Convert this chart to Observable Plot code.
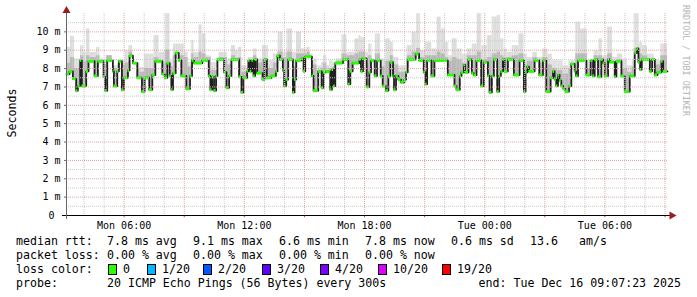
<!DOCTYPE html>
<html><head><meta charset="utf-8">
<script src="https://cdn.jsdelivr.net/npm/d3@7"></script>
<script src="https://cdn.jsdelivr.net/npm/@observablehq/plot@0.6"></script>
<style>
html,body{margin:0;padding:0;background:#fff;}
#wrap{position:relative;width:697px;height:297px;overflow:hidden;font-family:"DejaVu Sans Mono",monospace;}
#chart{position:absolute;left:0;top:0;}
.row{position:absolute;left:0;height:14px;width:697px;}
.t{position:absolute;top:0;font-size:11.6px;line-height:14px;white-space:pre;color:#000;}
.sq{position:absolute;top:2px;width:7px;height:9px;border:1px solid #000;}
</style></head>
<body><div id="wrap"><div id="chart"></div><div id="legend"></div></div>
<script>
// ---------- data (minutes after start, ms) ----------
const startTime = new Date(2025, 11, 15, 3, 7, 23);
const spanMinutes = 1800;
const medianMinutes = [0,9,19,29,34,41,46,59,66,84,94,111,116,122,139,142,152,157,166,172,184,189,199,212,226,234,248,257,266,287,
294,302,309,314,319,327,336,344,359,370,376,382,407,426,431,436,442,448,452,472,479,487,494,517,524,530,541,545,550,555,560,565,571,587,593,
600,614,627,632,639,648,652,658,664,678,683,688,704,710,715,735,740,754,764,770,777,790,795,800,805,828,844,850,857,877,882,888,
899,907,912,923,930,941,947,957,964,970,978,981,987,994,1002,1012,1017,1022,1046,1056,1070,1075,1080,1093,1102,1142,1162,1168,1178,1183,1190,
1194,1204,1214,1220,1228,1242,1250,1262,1267,1274,1280,1290,1296,1301,1307,1312,1322,1340,1357,1370,1375,1380,1385,1402,1416,1427,1437,1450,1457,1462,1467,1472,1477,1482,1488,
1494,1505,1512,1522,1526,1532,1557,1570,1577,1582,1592,1602,1607,1612,1622,1627,1642,1647,1662,1672,1687,1702,1708,1713,1718,1723,1747,1754,1762,1770,1782,1787];
const medianMs = [7.7,7.85,7.45,6.8,7.05,8.45,7.05,7.85,8.4,7.6,8.4,7.55,6.8,8.45,7.85,7.05,7.85,8.4,6.85,7.5,7.9,8.7,8.3,7.5,6.75,7.5,6.85,7.65,8.4,7.7,
7.5,8.3,7.6,6.85,7.75,8.85,8.45,7.6,6.9,7.6,8.45,8.3,8.45,7.6,6.85,7.55,6.8,7.6,8.5,7.8,6.95,7.6,8.5,7.55,6.7,7.5,7.85,8.45,7.85,8.45,7.6,8.5,7.75,7.4,8.5,
7.5,7.6,7.85,8.7,8.5,7.9,7.05,7.4,8.5,6.7,7.4,8.45,8.55,7.85,8.65,7.6,6.8,7.85,6.95,7.8,7.85,6.85,7.95,7.05,8.3,8.5,7.15,7.85,8.3,8.5,7.85,8.55,
7.0,7.8,8.45,7.6,8.45,7.6,7.05,6.8,7.6,8.35,7.6,6.85,7.6,7.4,7.25,7.4,7.8,8.5,8.8,8.45,7.8,7.15,8.45,7.6,8.45,7.65,7.05,6.85,7.6,7.8,8.2,
7.8,8.5,7.75,7.65,8.45,7.05,8.35,7.6,6.7,7.6,8.5,6.75,7.6,7.85,8.5,7.85,8.5,7.65,8.45,6.75,7.8,8.1,7.85,8.45,7.65,8.45,6.75,7.5,7.85,7.4,7.05,7.65,7.35,7.05,6.9,
6.75,7.05,8.25,7.85,7.6,8.45,7.65,8.45,7.6,8.5,7.55,8.5,8.3,7.6,8.5,8.35,7.55,8.4,7.6,6.75,7.6,8.85,9.1,8.35,7.95,8.5,7.85,8.5,7.65,7.8,8.4,7.85];
const smokeMinutes = [0,12,24,42,52,60,70,90,100,120,137,154,177,187,198,220,234,262,277,297,310,320,352,364,374,382,397,406,418,434,
457,482,494,506,514,525,544,560,570,587,605,620,634,649,660,677,689,704,720,730,739,750,764,770,780,788,798,808,825,840,864,876,
882,895,905,915,925,940,955,970,980,995,1020,1035,1049,1060,1075,1094,1110,1122,1135,1145,1155,1170,1185,1200,1215,1230,1244,1260,1275,1290,
1300,1310,1320,1335,1355,1370,1380,1397,1410,1425,1442,1455,1470,1487,1504,1525,1540,1560,1580,1595,1605,1620,1635,1650,1665,1680,1694,1700,1715,1725,1740,1760,1780];
const smokeTopMs = [9.16,9.76,8.52,9.25,8.88,10.16,8.88,9.16,8.52,8.7,8.15,8.43,8.97,9.25,8.33,8.06,8.79,9.8,8.88,10.99,8.43,9.34,8.88,8.33,9.52,8.88,10.38,9.89,8.7,8.33,
8.88,8.52,9.25,8.97,9.16,8.15,8.61,9.07,8.52,9.25,8.43,8.79,9.98,8.88,10.16,8.88,9.98,9.07,9.16,8.79,8.52,8.15,8.33,8.7,8.15,8.43,8.33,8.52,9.84,8.88,9.62,9.8,
9.7,8.88,9.34,8.43,9.89,8.52,9.62,9.43,8.61,8.15,9.25,9.98,10.99,8.97,9.43,9.07,10.8,10.16,9.43,8.7,9.62,9.07,8.79,9.07,9.34,10.99,9.25,9.8,10.81,10.9,
9.62,9.07,8.88,9.25,9.89,8.79,8.61,8.88,8.61,9.07,8.79,8.43,8.43,8.15,8.43,10.53,10.16,8.43,8.97,9.62,8.7,10.26,8.61,8.79,8.52,8.15,8.43,10.99,9.43,9.25,8.79,8.43,9.34];
const smokeMidMs = [8.3,8.6,8.0,8.7,8.4,8.7,8.6,8.7,8.2,8.9,8.0,8.2,8.3,8.9,8.0,7.8,8.0,8.6,8.3,9.0,8.1,8.7,8.6,8.1,8.8,8.6,8.9,8.8,8.6,7.9,
8.6,8.2,8.7,8.5,8.6,7.8,8.4,8.7,8.3,8.5,8.0,8.3,8.9,8.6,8.9,8.1,8.8,8.8,8.9,8.5,8.2,7.9,8.0,8.3,7.9,8.0,8.1,8.4,8.8,8.7,8.8,8.9,
8.9,8.3,8.7,8.0,8.8,8.1,8.4,8.7,8.2,7.8,8.7,8.9,9.1,8.6,8.7,8.7,8.9,8.8,8.6,8.4,8.6,8.5,8.3,8.7,8.7,8.9,8.5,8.6,8.8,8.9,
8.7,8.6,8.6,8.7,8.8,8.2,8.4,8.6,8.3,8.6,8.2,8.0,7.9,7.7,8.0,8.8,8.8,8.0,8.7,8.7,8.5,8.8,8.4,8.5,8.0,7.8,8.1,9.1,8.8,8.7,8.4,8.2,8.7];

const yTicks = [0,1,2,3,4,5,6,7,8,9,10];
const yTickLabels = ["0\u00a0","1 m","2 m","3 m","4 m","5 m","6 m","7 m","8 m","9 m","10 m"];
const xTickDates = [new Date(2025,11,15,6), new Date(2025,11,15,12), new Date(2025,11,15,18), new Date(2025,11,16,0), new Date(2025,11,16,6)];
const xTickLabels = ["Mon 06:00","Mon 12:00","Mon 18:00","Tue 00:00","Tue 06:00"];
const yTitle = "Seconds";
const sideText = "RRDTOOL / TOBI OETIKER";

const legendRows = [
  [["median rtt:",16],["7.8 ms avg",107],["9.1 ms max",193],["6.6 ms min",279],["7.8 ms now",365],["0.6 ms sd",451],["13.6",530],["am/s",579]],
  [["packet loss:",16],["0.00 % avg",107],["0.00 % max",193],["0.00 % min",279],["0.00 % now",365]],
  [["loss color:",16]],
  [["probe:",16],["20 ICMP Echo Pings (56 Bytes) every 300s",107]]
];
const lossLabels = ["0","1/20","2/20","3/20","4/20","10/20","19/20"];
const lossColors = ["#26ff00","#00b8ff","#0059ff","#5e00ff","#7e00ff","#dd00ff","#ff0000"];
const lossSquareX = [108,147,203,262,320,378,442];
const endText = "end: Tue Dec 16 09:07:23 2025";

// ---------- build ----------
const T = m => new Date(startTime.getTime() + m * 60000);
const stepAt = (mins, vals) => m => vals[Math.max(0, d3.bisectRight(mins, m) - 1)];
const medAt = stepAt(medianMinutes, medianMs);
const smkAt = stepAt(smokeMinutes, smokeTopMs);
const midAt = stepAt(smokeMinutes, smokeMidMs);
const cuts = Array.from(new Set([...medianMinutes, ...smokeMinutes, spanMinutes])).sort((a,b)=>a-b);
const smoke = [], smokeMid = [];
for (let i = 0; i < cuts.length - 1; i++) {
  const a = cuts[i], b = cuts[i+1], lo = medAt(a), hi = smkAt(a), mid = Math.min(midAt(a), hi);
  if (hi > lo) smoke.push({x1: T(a), x2: T(b), y1: lo, y2: hi});
  if (mid > lo) smokeMid.push({x1: T(a), x2: T(b), y1: lo, y2: mid});
}
const n = medianMinutes.length;
const segs = medianMinutes.map((m,i) => ({x1: T(m), x2: T(i < n-1 ? medianMinutes[i+1] : spanMinutes), y: medianMs[i]}));
const linePts = medianMinutes.map((m,i) => ({x: T(m), y: medianMs[i]})).concat([{x: T(spanMinutes), y: medianMs[n-1]}]);

const hours = d3.timeHour.range(T(0), T(spanMinutes));
const majorX = hours.filter(d => d.getHours() % 3 === 0);
const minorX = hours.filter(d => d.getHours() % 3 !== 0);
const majorY = d3.range(1, 11);
const minorY = d3.range(0.5, 11, 1);

const minor = "#c8c8c8", major = "#dfa2a2";
const chart = Plot.plot({
  width: 697, height: 232,
  marginLeft: 66, marginRight: 30, marginTop: 13, marginBottom: 17,
  style: {fontFamily: "'DejaVu Sans Mono', monospace", fontSize: "10px", background: "transparent", color: "#000", overflow: "visible"},
  x: {type: "time", domain: [T(0), T(spanMinutes)]},
  y: {domain: [0, 11]},
  marks: [
    Plot.rect(smoke, {x1: "x1", x2: "x2", y1: "y1", y2: "y2", fill: "#dddddd"}),
    Plot.rect(smokeMid, {x1: "x1", x2: "x2", y1: "y1", y2: "y2", fill: "#b9b9b9"}),
    Plot.line(linePts, {x: "x", y: "y", curve: "step-after", stroke: "#202020", strokeWidth: 1.8}),
    Plot.ruleY(segs, {y: "y", x1: "x1", x2: "x2", stroke: "#26ff00", strokeWidth: 3}),
    Plot.ruleY(minorY, {stroke: minor, strokeDasharray: "1,1"}),
    Plot.ruleX(minorX, {stroke: minor, strokeDasharray: "1,1"}),
    Plot.ruleY(majorY, {stroke: major, strokeDasharray: "1,1"}),
    Plot.ruleX(majorX, {stroke: major, strokeDasharray: "1,1"}),
    Plot.axisY(yTicks, {tickFormat: d => yTickLabels[yTicks.indexOf(d)], tickSize: 2, tickPadding: 4, label: null, stroke: "#666"}),
    Plot.axisX(xTickDates, {tickFormat: d => xTickLabels[xTickDates.findIndex(t => +t === +d)], tickSize: 0, tickPadding: 6, label: null}),
    Plot.ruleX(majorX, {y1: 0, y2: -0.12, stroke: "#b05050"}),
    Plot.ruleY([0], {x1: T(-12), x2: T(spanMinutes + 10), stroke: "#000"}),
    Plot.ruleX([T(0)], {y1: -0.22, y2: 11.15, stroke: "#666"}),
    Plot.dot([{x: T(spanMinutes + 13), y: 0}], {x: "x", y: "y", symbol: "triangle", rotate: 90, r: 3, fill: "#9b1c1c", stroke: null}),
    Plot.dot([{x: T(0), y: 11.15}], {x: "x", y: "y", symbol: "triangle", r: 3, fill: "#9b1c1c", stroke: null})
  ]
});
document.getElementById("chart").appendChild(chart);
const svg = d3.select(chart);
svg.append("text").attr("transform", "translate(16,113) rotate(-90)").attr("text-anchor", "middle")
  .style("font-size", "11.6px").attr("fill", "#000").text(yTitle);
svg.append("text").attr("transform", "translate(683,5) rotate(90)").attr("text-anchor", "start")
  .style("font-size", "8.4px").attr("fill", "#b4b4b4").text(sideText);

// ---------- legend ----------
const leg = document.getElementById("legend");
const rowTops = [234, 248, 262, 276];
legendRows.forEach((row, r) => {
  const div = document.createElement("div");
  div.className = "row"; div.style.top = rowTops[r] + "px";
  row.forEach(([txt, x]) => {
    const s = document.createElement("span"); s.className = "t"; s.style.left = x + "px"; s.textContent = txt; div.appendChild(s);
  });
  if (r === 2) {
    lossLabels.forEach((lab, i) => {
      const q = document.createElement("span"); q.className = "sq"; q.style.left = lossSquareX[i] + "px"; q.style.background = lossColors[i]; div.appendChild(q);
      const s = document.createElement("span"); s.className = "t"; s.style.left = (lossSquareX[i] + 15) + "px"; s.textContent = lab; div.appendChild(s);
    });
  }
  if (r === 3) {
    const s = document.createElement("span"); s.className = "t"; s.style.right = "16px"; s.textContent = endText; div.appendChild(s);
  }
  leg.appendChild(div);
});
</script>
</body></html>
